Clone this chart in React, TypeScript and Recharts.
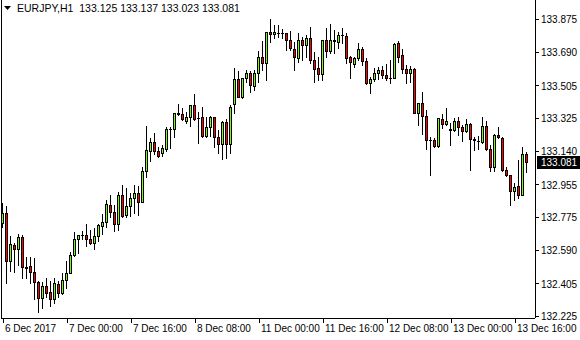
import React from "react";
import { ComposedChart, Bar, XAxis, YAxis, ReferenceLine } from "recharts";

const symbol = "EURJPY,H1";

const opens = [
  132.741, 132.796, 132.528, 132.62, 132.596, 132.662, 132.496, 132.504, 132.468, 132.412,
  132.324, 132.392, 132.359, 132.318, 132.401, 132.352, 132.425, 132.466, 132.564, 132.651,
  132.675, 132.675, 132.651, 132.63, 132.67, 132.727, 132.746, 132.842, 132.801, 132.735,
  132.897, 132.786, 132.837, 132.879, 132.907, 132.861, 133.031, 133.144, 133.19, 133.144,
  133.13, 133.153, 133.264, 133.262, 133.352, 133.348, 133.31, 133.329, 133.397, 133.324,
  133.329, 133.226, 133.273, 133.329, 133.218, 133.181, 133.305, 133.181, 133.401, 133.54,
  133.444, 133.546, 133.574, 133.504, 133.574, 133.666, 133.63, 133.801, 133.79, 133.799,
  133.799, 133.799, 133.759, 133.707, 133.657, 133.759, 133.731, 133.768, 133.648, 133.602,
  133.57, 133.759, 133.699, 133.757, 133.749, 133.786, 133.781, 133.662, 133.624, 133.657,
  133.707, 133.644, 133.519, 133.54, 133.574, 133.592, 133.564, 133.549, 133.549, 133.741,
  133.675, 133.596, 133.577, 133.596, 133.352, 133.407, 133.337, 133.203, 133.203, 133.17,
  133.318, 133.29, 133.262, 133.259, 133.31, 133.273, 133.255, 133.292, 133.207, 133.199,
  133.194, 133.281, 133.152, 133.055, 133.231, 133.213, 133.037, 133.009, 132.921, 132.948,
  132.897, 133.125,
];

const highs = [
  132.852, 132.837, 132.67, 132.63, 132.681, 132.675, 132.551, 132.551, 132.546, 132.419,
  132.416, 132.435, 132.419, 132.435, 132.419, 132.466, 132.528, 132.583, 132.694, 132.675,
  132.699, 132.737, 132.703, 132.713, 132.737, 132.792, 132.87, 132.897, 132.842, 132.912,
  132.953, 132.935, 132.907, 132.953, 132.949, 133.055, 133.281, 133.213, 133.241, 133.166,
  133.175, 133.277, 133.273, 133.355, 133.403, 133.379, 133.361, 133.397, 133.457, 133.359,
  133.388, 133.329, 133.337, 133.333, 133.259, 133.31, 133.318, 133.397, 133.602, 133.588,
  133.546, 133.592, 133.588, 133.592, 133.699, 133.752, 133.805, 133.875, 133.842, 133.842,
  133.82, 133.799, 133.81, 133.749, 133.799, 133.773, 133.786, 133.833, 133.694, 133.662,
  133.759, 133.824, 133.848, 133.814, 133.805, 133.824, 133.796, 133.67, 133.666, 133.741,
  133.718, 133.657, 133.552, 133.602, 133.611, 133.614, 133.626, 133.648, 133.741, 133.753,
  133.707, 133.62, 133.614, 133.602, 133.41, 133.472, 133.37, 133.222, 133.213, 133.327,
  133.346, 133.379, 133.296, 133.327, 133.329, 133.286, 133.318, 133.299, 133.218, 133.226,
  133.333, 133.31, 133.175, 133.237, 133.277, 133.218, 133.055, 133.009, 132.963, 133.092,
  133.166, 133.137,
];

const lows = [
  132.722, 132.41, 132.477, 132.472, 132.509, 132.435, 132.435, 132.407, 132.318, 132.249,
  132.268, 132.333, 132.281, 132.299, 132.333, 132.346, 132.379, 132.463, 132.56, 132.577,
  132.651, 132.616, 132.626, 132.596, 132.644, 132.681, 132.722, 132.773, 132.699, 132.703,
  132.773, 132.773, 132.781, 132.799, 132.786, 132.861, 133.0, 133.088, 133.126, 133.107,
  133.116, 133.142, 133.157, 133.222, 133.342, 133.314, 133.299, 133.282, 133.314, 133.188,
  133.222, 133.222, 133.226, 133.162, 133.13, 133.096, 133.102, 133.13, 133.355, 133.44,
  133.435, 133.527, 133.472, 133.481, 133.527, 133.592, 133.537, 133.749, 133.768, 133.777,
  133.771, 133.703, 133.703, 133.592, 133.638, 133.648, 133.666, 133.63, 133.527, 133.537,
  133.537, 133.666, 133.688, 133.685, 133.713, 133.741, 133.63, 133.546, 133.607, 133.648,
  133.62, 133.515, 133.466, 133.533, 133.54, 133.546, 133.537, 133.522, 133.546, 133.638,
  133.574, 133.522, 133.527, 133.352, 133.286, 133.237, 133.152, 133.009, 133.162, 133.166,
  133.268, 133.286, 133.175, 133.255, 133.231, 133.199, 133.249, 133.037, 133.148, 133.152,
  133.188, 133.148, 133.033, 133.033, 133.213, 133.033, 133.003, 132.842, 132.87, 132.879,
  132.897, 133.023,
];

const closes = [
  132.796, 132.528, 132.624, 132.596, 132.662, 132.496, 132.493, 132.468, 132.416, 132.324,
  132.392, 132.355, 132.318, 132.407, 132.352, 132.425, 132.466, 132.564, 132.651, 132.675,
  132.673, 132.651, 132.633, 132.67, 132.731, 132.746, 132.848, 132.801, 132.735, 132.897,
  132.781, 132.837, 132.879, 132.907, 132.861, 133.031, 133.148, 133.19, 133.144, 133.116,
  133.157, 133.264, 133.262, 133.352, 133.346, 133.318, 133.329, 133.397, 133.32, 133.327,
  133.226, 133.273, 133.329, 133.218, 133.181, 133.305, 133.181, 133.388, 133.54, 133.444,
  133.546, 133.574, 133.509, 133.574, 133.666, 133.633, 133.801, 133.79, 133.801, 133.797,
  133.797, 133.759, 133.713, 133.662, 133.759, 133.731, 133.768, 133.648, 133.596, 133.57,
  133.759, 133.699, 133.759, 133.755, 133.786, 133.784, 133.657, 133.635, 133.657, 133.707,
  133.644, 133.519, 133.542, 133.574, 133.592, 133.564, 133.549, 133.547, 133.735, 133.666,
  133.596, 133.577, 133.596, 133.352, 133.407, 133.337, 133.203, 133.201, 133.17, 133.324,
  133.29, 133.308, 133.26, 133.308, 133.273, 133.255, 133.292, 133.207, 133.205, 133.197,
  133.281, 133.152, 133.055, 133.231, 133.218, 133.037, 133.009, 132.921, 132.944, 132.897,
  133.126, 133.081,
];

// bar index of each time label (one label every 16 H1 bars)
const timeTickBars = [0, 16, 32, 48, 64, 80, 96, 112, 128];
const timeLabels = [
  "6 Dec 2017",
  "7 Dec 00:00",
  "7 Dec 16:00",
  "8 Dec 08:00",
  "11 Dec 00:00",
  "11 Dec 16:00",
  "12 Dec 08:00",
  "13 Dec 00:00",
  "13 Dec 16:00",
];

const priceTicks = [
  133.875, 133.69, 133.505, 133.325, 133.14, 132.955, 132.775, 132.59, 132.405, 132.225,
];
const priceMin = 132.214;
const priceMax = 133.981;

const FONT = '"Liberation Sans", Arial, sans-serif';
const BULL = "#7cfc00";
const BEAR = "#ff0000";

const data = opens.map((o, i) => ({
  i,
  open: o,
  high: highs[i],
  low: lows[i],
  close: closes[i],
  range: [lows[i], highs[i]],
}));

const lastBar = data[data.length - 1];

const Candle = (props: any) => {
  const { x, y, width, height, payload } = props;
  if (!payload) return null;
  const { open, close, high, low } = payload;
  const top = Math.min(y, y + height);
  const span = Math.abs(height);
  const px = span / (high - low || 1);
  const yOf = (v: number) => top + (high - v) * px;
  const col = Math.floor(x + width / 2);
  const yH = Math.round(top);
  const yL = Math.round(top + span);
  const bt = Math.round(Math.min(yOf(open), yOf(close)));
  const bb = Math.round(Math.max(yOf(open), yOf(close)));
  const fill = close >= open ? BULL : BEAR;
  return (
    <g>
      <line x1={col + 0.5} x2={col + 0.5} y1={yH} y2={yL + 1} stroke="#000" strokeWidth={1} />
      {bb - bt < 1 ? (
        <line x1={col - 1} x2={col + 2} y1={bt + 0.5} y2={bt + 0.5} stroke="#000" strokeWidth={1} />
      ) : (
        <rect x={col - 0.5} y={bt + 0.5} width={2} height={bb - bt} fill={fill} stroke="#000" strokeWidth={1} />
      )}
    </g>
  );
};

const TimeTick = (props: any) => {
  const { x, y, payload } = props;
  const idx = timeTickBars.indexOf(payload.value);
  return (
    <g>
      <line x1={x} x2={x} y1={y} y2={y + 5} stroke="#000" />
      <text x={x + 2} y={y + 14} fontSize={10} fontFamily={FONT} fill="#000" textAnchor="start">
        {timeLabels[idx]}
      </text>
    </g>
  );
};

const PriceTick = (props: any) => {
  const { x, y, payload } = props;
  const v = payload.value;
  if (v === lastBar.close) {
    return (
      <g>
        <rect x={x + 2} y={y - 6} width={43} height={13} fill="#000" />
        <text x={x + 6} y={y + 4} fontSize={10} fontFamily={FONT} fill="#fff">
          {v.toFixed(3)}
        </text>
      </g>
    );
  }
  return (
    <g>
      <line x1={x} x2={x + 4} y1={y} y2={y} stroke="#000" />
      <text x={x + 6} y={y + 4} fontSize={10} fontFamily={FONT} fill="#000">
        {v.toFixed(3)}
      </text>
    </g>
  );
};

const App: React.FC = () => {
  return (
    <div style={{ position: "relative", width: 580, height: 340, background: "#fff" }}>
      <style>{"body{margin:0}.recharts-surface{shape-rendering:crispEdges}"}</style>
      <ComposedChart
        width={580}
        height={340}
        data={data}
        margin={{ top: 0, right: 0, bottom: 0, left: 1 }}
      >
        <XAxis
          dataKey="i"
          type="number"
          domain={[-0.5, 133]}
          allowDataOverflow
          ticks={timeTickBars}
          interval={0}
          tickLine={false}
          tickSize={0}
          tickMargin={0}
          axisLine={{ stroke: "#000" }}
          height={22}
          tick={<TimeTick />}
        />
        <YAxis
          orientation="right"
          type="number"
          domain={[priceMin, priceMax]}
          allowDataOverflow
          ticks={[...priceTicks, lastBar.close]}
          interval={0}
          tickLine={false}
          tickSize={0}
          tickMargin={0}
          axisLine={{ stroke: "#000" }}
          width={45}
          tick={<PriceTick />}
        />
        <ReferenceLine x={-0.5} stroke="#000" />
        <Bar dataKey="range" barSize={3} shape={<Candle />} isAnimationActive={false} />
      </ComposedChart>
      <div
        style={{
          position: "absolute",
          left: 4,
          top: 2,
          display: "flex",
          alignItems: "center",
          fontFamily: FONT,
          fontSize: 10.5,
          color: "#000",
          whiteSpace: "pre",
          lineHeight: "13px",
        }}
      >
        <svg width={8} height={5} style={{ marginRight: 5 }}>
          <polygon points="0,0 7,0 3.5,4" fill="#000" />
        </svg>
        <span>
          {symbol}
          {"  "}
          {[lastBar.open, lastBar.high, lastBar.low, lastBar.close].map((v) => v.toFixed(3)).join(" ")}
        </span>
      </div>
    </div>
  );
};

export default App;
